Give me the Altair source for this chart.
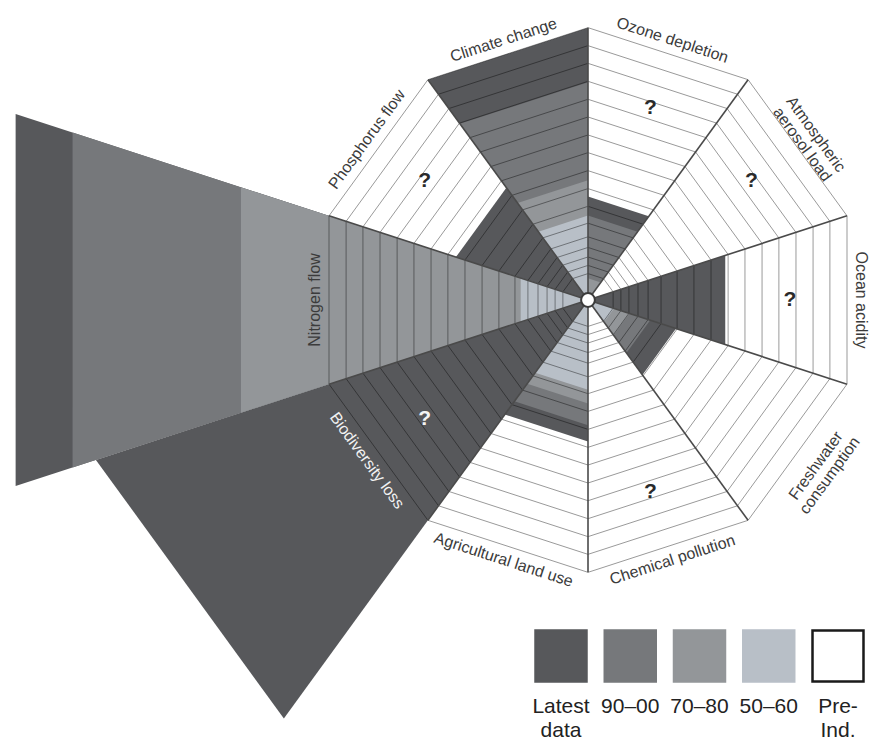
import numpy as np
import pandas as pd
import altair as alt

# Control variables, clockwise from the top; each wedge spans 36 degrees
categories = ["Climate change", "Ozone depletion", "Atmospheric aerosol load",
              "Ocean acidity", "Freshwater consumption", "Chemical pollution",
              "Agricultural land use", "Biodiversity loss", "Nitrogen flow",
              "Phosphorus flow"]
bearings = [342, 18, 54, 90, 126, 162, 198, 234, 270, 306]  # wedge centre, deg clockwise from north

periods = ["Latest data", "90–00", "70–80", "50–60", "Pre-Ind."]
legend_text = ["Latest\ndata", "90–00", "70–80", "50–60", "Pre-\nInd."]
period_colors = ["#57585b", "#76787b", "#939699", "#b8bfc7", "#ffffff"]

# Extent of each period's wedge, in multiples of the boundary (1.0 = outer edge)
latest = [1.00, 0.38, 0.00, 0.53, 0.34, 0.00, 0.52, 1.90, 2.21, 0.51]
p90_00 = [0.80, 0.31, 0.00, 0.00, 0.24, 0.00, 0.46, 0.00, 1.99, 0.00]
p70_80 = [0.44, 0.08, 0.00, 0.00, 0.16, 0.00, 0.38, 0.00, 1.34, 0.00]
p50_60 = [0.31, 0.00, 0.00, 0.00, 0.10, 0.00, 0.33, 0.00, 0.26, 0.00]
pre_ind = [0.00, 0.00, 0.00, 0.00, 0.00, 0.00, 0.00, 0.00, 0.00, 0.00]

# Variables not yet quantified
unknown = [False, True, True, True, False, True, False, True, False, True]

# Reference rings of the grid (1.0 = boundary)
rings = [1.000, 0.934, 0.869, 0.803, 0.737, 0.672, 0.606, 0.541, 0.475,
         0.409, 0.344, 0.282, 0.232, 0.193, 0.158, 0.127, 0.097]

# ---- layout -------------------------------------------------------------
W, H = 881, 742
CX, CY, UNIT = 588, 300, 259          # centre pixel and pixels per boundary unit
FONT = "Liberation Sans"
COS18 = np.cos(np.radians(18))
HALF = 18
LABEL_LH = 17

x_scale = alt.Scale(domain=[-CX / UNIT, (W - CX) / UNIT], nice=False, zero=False)
y_scale = alt.Scale(domain=[-(H - CY) / UNIT, CY / UNIT], nice=False, zero=False)
X = lambda f: alt.X(f, type="quantitative", scale=x_scale, axis=None)
Y = lambda f: alt.Y(f, type="quantitative", scale=y_scale, axis=None)


def polar(r, deg):
    a = np.radians(deg)
    return r * np.sin(a), r * np.cos(a)


# ---- period wedges (triangles with straight outer edge) -------------------
series = [latest, p90_00, p70_80, p50_60, pre_ind]
rows = []
for k, cat in enumerate(categories):
    for p, vals in zip(periods, series):
        v = vals[k]
        if v <= 0:
            continue
        r = v / COS18
        pts = [(0.0, 0.0), polar(r, bearings[k] - HALF), polar(r, bearings[k] + HALF)]
        for j, (x, y) in enumerate(pts):
            rows.append(dict(category=cat, period=p, vertex=j, x=x, y=y))
wedges = pd.DataFrame(rows)

color_scale = alt.Scale(domain=periods, range=period_colors)

wedge_layers = []
for p in periods:
    sub = wedges[wedges.period == p]
    if sub.empty:
        continue
    wedge_layers.append(
        alt.Chart(sub).mark_line(interpolate="linear-closed", filled=True, opacity=1)
        .encode(x=X("x"), y=Y("y"), detail="category:N", order=alt.Order("vertex:Q"),
                color=alt.Color("period:N", scale=color_scale, legend=None))
    )

# ---- grid rings -----------------------------------------------------------
ring_rows = []
for i, a in enumerate(rings):
    for j in range(10):
        x, y = polar(a / COS18, 36 * j)
        ring_rows.append(dict(ring=i, vertex=j, x=x, y=y))
ring_layer = (
    alt.Chart(pd.DataFrame(ring_rows))
    .mark_line(interpolate="linear-closed", color="#000000", strokeOpacity=0.4, strokeWidth=1)
    .encode(x=X("x"), y=Y("y"), detail="ring:N", order=alt.Order("vertex:Q"))
)

# ---- spokes between wedges ------------------------------------------------
spoke_rows = []
for j in range(10):
    x, y = polar(1 / COS18, 36 * j)
    spoke_rows.append(dict(x0=0.0, y0=0.0, x=x, y=y))
spoke_layer = (
    alt.Chart(pd.DataFrame(spoke_rows))
    .mark_rule(color="#4a4a4a", strokeWidth=1.6)
    .encode(x=X("x0"), y=Y("y0"), x2="x:Q", y2="y:Q")
)

hub = (
    alt.Chart(pd.DataFrame({"x": [0.0], "y": [0.0]}))
    .mark_point(shape="circle", filled=True, fill="#ffffff", stroke="#3a3a3a",
                strokeWidth=2, size=190, opacity=1)
    .encode(x=X("x"), y=Y("y"))
)


# ---- labels ---------------------------------------------------------------
def on_darkest(k, r):
    shown = None
    for p, vals in zip(periods, series):
        if vals[k] > r:
            shown = p
    return shown == periods[0]


wrap = {"Atmospheric aerosol load": "Atmospheric\naerosol load",
        "Freshwater consumption": "Freshwater\nconsumption"}
lab_rows = []
for k, cat in enumerate(categories):
    text = wrap.get(cat, cat)
    r = 1.055 + (0.5 * LABEL_LH / UNIT if "\n" in text else 0.0)
    x, y = polar(r, bearings[k])
    b = bearings[k]
    rot = (b - 180) % 360 if 90 < b < 270 else b
    lab_rows.append(dict(label=text, x=x, y=y, rot=rot, light=on_darkest(k, r)))
labels = pd.DataFrame(lab_rows)

q_rows = []
for k, cat in enumerate(categories):
    if unknown[k]:
        x, y = polar(0.78, bearings[k])
        q_rows.append(dict(label="?", x=x, y=y, light=on_darkest(k, 0.78)))
qmarks = pd.DataFrame(q_rows)

lab_base = alt.Chart(labels).encode(
    x=X("x"), y=Y("y"), text="label:N", angle=alt.Angle("rot:Q", scale=None))
lab_kw = dict(font=FONT, fontSize=16, lineBreak="\n", lineHeight=LABEL_LH,
              align="center", baseline="middle")
lab_dark = lab_base.transform_filter("!datum.light").mark_text(color="#3b3b3b", **lab_kw)
lab_light = lab_base.transform_filter("datum.light").mark_text(color="#f2f2f2", **lab_kw)

q_base = alt.Chart(qmarks).encode(x=X("x"), y=Y("y"), text="label:N")
q_kw = dict(font=FONT, fontSize=21, fontWeight="bold", align="center", baseline="middle")
q_dark = q_base.transform_filter("!datum.light").mark_text(color="#2a2a2a", **q_kw)
q_light = q_base.transform_filter("datum.light").mark_text(color="#f4f4f4", **q_kw)

# ---- legend -----------------------------------------------------------------
leg = pd.DataFrame({"period": periods, "label": legend_text})
leg_x = alt.X("period:N", scale=alt.Scale(domain=periods, range=[561, 838], padding=0), axis=None)
leg_boxes = (
    alt.Chart(leg)
    .mark_square(size=2600, strokeWidth=2.5, opacity=1, fillOpacity=1)
    .encode(x=leg_x, y=alt.value(656),
            color=alt.Color("period:N", scale=color_scale, legend=None),
            stroke=alt.Stroke("period:N", legend=None,
                              scale=alt.Scale(domain=periods,
                                              range=period_colors[:4] + ["#1a1a1a"])))
)
leg_text = (
    alt.Chart(leg)
    .mark_text(font=FONT, fontSize=21, lineBreak="\n", lineHeight=24,
               align="center", baseline="alphabetic", color="#222222")
    .encode(x=leg_x, y=alt.value(713), text="label:N")
)

chart = (
    alt.layer(*wedge_layers, ring_layer, spoke_layer, hub,
              lab_dark, lab_light, q_dark, q_light, leg_boxes, leg_text)
    .resolve_scale(x="independent", y="independent")
    .properties(width=W, height=H, padding=0,
                autosize=alt.AutoSizeParams(type="none"), background="#ffffff")
    .configure_view(stroke=None)
)

chart.save("out.html", embed_options={"renderer": "svg", "actions": False})
